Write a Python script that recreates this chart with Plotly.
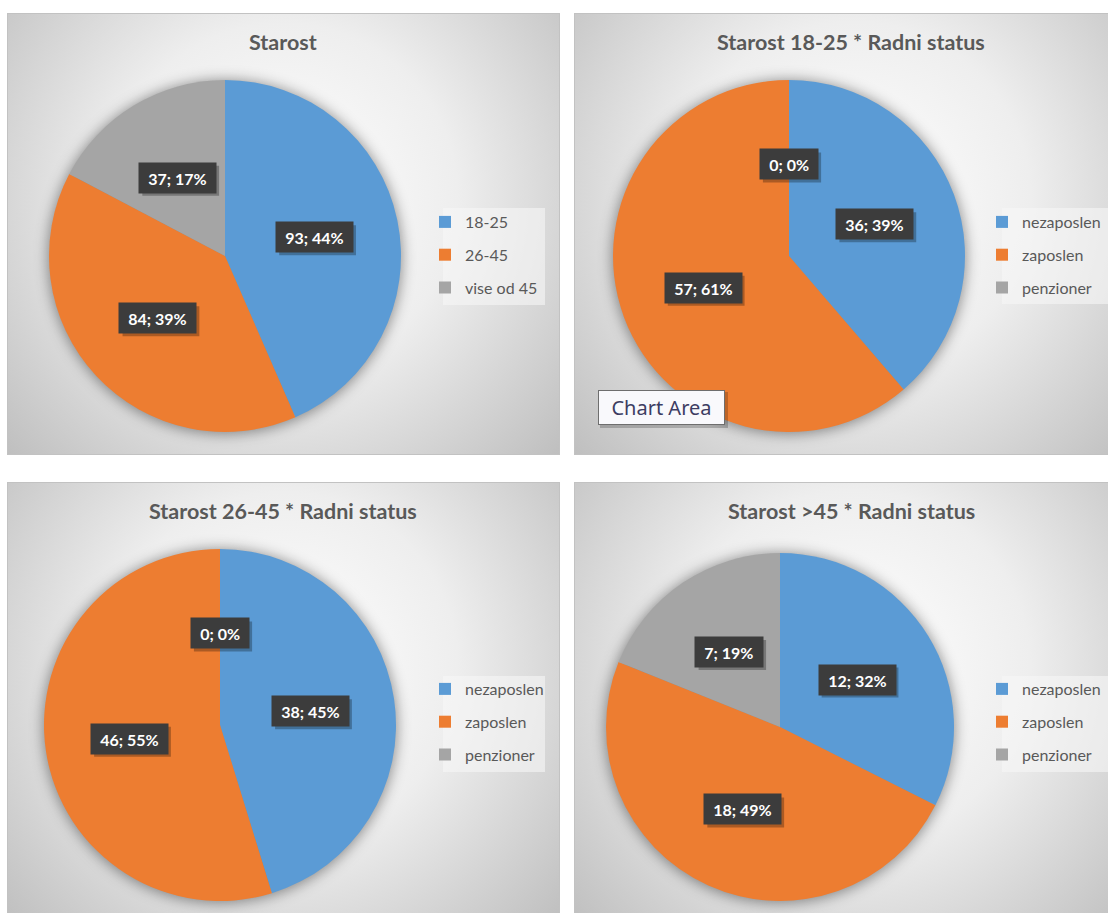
import math
import base64
import plotly.graph_objects as go

W, H = 1108, 913

# ---------------- data ----------------
titles = ["Starost",
          "Starost 18-25 * Radni status",
          "Starost 26-45 * Radni status",
          "Starost >45 * Radni status"]

age_labels = ["18-25", "26-45", "vise od 45"]
status_labels = ["nezaposlen", "zaposlen", "penzioner"]

age_values = [93, 84, 37]
age_pct = [44, 39, 17]

s1825_values = [36, 57, 0]
s1825_pct = [39, 61, 0]

s2645_values = [38, 46, 0]
s2645_pct = [45, 55, 0]

s45_values = [12, 18, 7]
s45_pct = [32, 49, 19]

colors = ["#5B9BD5", "#ED7D31", "#A5A5A5"]

charts = [
    (titles[0], age_labels, age_values, age_pct),
    (titles[1], status_labels, s1825_values, s1825_pct),
    (titles[2], status_labels, s2645_values, s2645_pct),
    (titles[3], status_labels, s45_values, s45_pct),
]

# ---------------- layout geometry (pixels) ----------------
panels = [(7, 13, 552, 441), (574, 13, 560, 441), (7, 482, 552, 440), (574, 482, 560, 440)]
pies = [(225, 256, 176), (789, 256, 176), (220, 725, 176), (780, 727, 174)]
title_pos = [(283, 42), (851, 42), (283, 511), (851, 511)]
legend_pos = [(425, 205), (982, 205), (425, 672), (982, 672)]
legend_boxes = [(443, 208, 102, 97), (1002, 208, 120, 96), (443, 676, 102, 96), (1002, 676, 120, 96)]
LABEL_K = 0.52
LEG_FONT = 16
LBL_FONT = 16
LBL_PAD = 5
LBL_H = 20
CHAR_W = {"%": 13.3, ";": 4.3, " ": 4.0}


def px(x):
    return x / W


def py(y):
    return 1 - y / H


def text_w(s):
    return sum(CHAR_W.get(c, 9.3) for c in s) + 8


# ---------------- background (panels with radial gradient, pie shadows, legend boxes) ----------------
svg = [f'<svg xmlns="http://www.w3.org/2000/svg" width="{W}" height="{H}" viewBox="0 0 {W} {H}"><defs>']
for i, (x, y, w, h) in enumerate(panels):
    gcx, gcy = x + w * 0.5, y + h * 0.42
    rr = math.hypot(w, h) * 0.55
    svg.append(
        f'<radialGradient id="g{i}" gradientUnits="userSpaceOnUse" cx="{gcx}" cy="{gcy}" r="{rr}">'
        f'<stop offset="0" stop-color="#ffffff"/><stop offset="0.45" stop-color="#eeeeee"/>'
        f'<stop offset="1" stop-color="#bcbcbc"/></radialGradient>')
svg.append('<filter id="blur" x="-50%" y="-50%" width="200%" height="200%">'
           '<feGaussianBlur stdDeviation="7"/></filter></defs>')
svg.append(f'<rect x="0" y="0" width="{W}" height="{H}" fill="#ffffff"/>')
for i, (x, y, w, h) in enumerate(panels):
    svg.append(f'<rect x="{x + 0.5}" y="{y + 0.5}" width="{w}" height="{h}" fill="url(#g{i})" '
               f'stroke="#c2c2c2" stroke-width="1"/>')
for (cx, cy, r) in pies:
    svg.append(f'<circle cx="{cx}" cy="{cy + 1}" r="{r + 1}" fill="#000000" fill-opacity="0.42" filter="url(#blur)"/>')
for (x, y, w, h) in legend_boxes:
    svg.append(f'<rect x="{x}" y="{y}" width="{w}" height="{h}" fill="#f6f6f6" fill-opacity="0.6"/>')
svg.append('</svg>')
svg_uri = "data:image/svg+xml;base64," + base64.b64encode("".join(svg).encode()).decode()

# ---------------- figure ----------------
fig = go.Figure()
annotations = []
shapes = []
legend_keys = ["legend", "legend2", "legend3", "legend4"]
layout_legends = {}

for i, (title, labels, values, pcts) in enumerate(charts):
    cx, cy, r = pies[i]
    # zero-width suffix keeps each pie's legend entries distinct across the four legends
    fig.add_trace(go.Pie(
        labels=[l + "\u200b" * i for l in labels],
        values=values,
        sort=False,
        direction="clockwise",
        rotation=0,
        marker=dict(colors=colors, line=dict(width=0)),
        textinfo="none",
        hovertemplate=[f"{l}: {v}<extra></extra>" for l, v in zip(labels, values)],
        domain=dict(x=[px(cx - r), px(cx + r)], y=[py(cy + r), py(cy - r)]),
        legend=legend_keys[i],
        showlegend=True,
    ))

    lx, ly = legend_pos[i]
    layout_legends[legend_keys[i]] = dict(
        x=px(lx), y=py(ly), xanchor="left", yanchor="top",
        bgcolor="rgba(0,0,0,0)", borderwidth=0,
        font=dict(family="Lato", size=LEG_FONT, color="#595959"),
        traceorder="grouped", tracegroupgap=9,
        itemclick=False, itemdoubleclick=False,
    )

    tx, ty = title_pos[i]
    annotations.append(dict(
        text=title, x=px(tx), y=py(ty), xref="paper", yref="paper",
        showarrow=False, xanchor="center", yanchor="middle",
        font=dict(family="Lato", size=21.5, color="#595959", weight="bold"),
    ))

    tot = sum(values)
    for j, (v, p) in enumerate(zip(values, pcts)):
        mid = (sum(values[:j]) + v / 2) / tot * 2 * math.pi
        lxp = cx + LABEL_K * r * math.sin(mid)
        lyp = cy - LABEL_K * r * math.cos(mid)
        txt = f"{v}; {p}%"
        tw = text_w(txt)
        bw, bh = tw + 2 * LBL_PAD, LBL_H + 2 * LBL_PAD
        # drop shadow of the label box
        shapes.append(dict(
            type="rect", xref="paper", yref="paper", layer="above",
            x0=px(lxp - bw / 2 + 3), x1=px(lxp + bw / 2 + 3),
            y0=py(lyp + bh / 2 + 3), y1=py(lyp - bh / 2 + 3),
            fillcolor="rgba(0,0,0,0.28)", line=dict(width=0),
        ))
        annotations.append(dict(
            text=txt, x=px(lxp), y=py(lyp), xref="paper", yref="paper",
            showarrow=False, xanchor="center", yanchor="middle",
            width=tw, height=LBL_H, align="center", valign="middle",
            font=dict(family="Lato", size=LBL_FONT, color="#ffffff", weight="bold"),
            bgcolor="#3c3c3c", borderpad=LBL_PAD,
        ))

# invisible helper entries: give each legend a named group so the item gap applies
for i in range(4):
    fig.add_trace(go.Pie(
        labels=[" " + "\u200b" * i], values=[1], sort=False,
        marker=dict(colors=["rgba(0,0,0,0)"], line=dict(width=0)),
        textinfo="none", hoverinfo="skip",
        domain=dict(x=[0, 0.001], y=[0, 0.001]),
        legend=legend_keys[i], legendgroup=f"helper{i}", showlegend=True,
    ))

# "Chart Area" tooltip
ca_x, ca_y, ca_w, ca_h, ca_pad = 661.5, 407.5, 119, 27, 4
shapes.append(dict(
    type="rect", xref="paper", yref="paper", layer="above",
    x0=px(ca_x - ca_w / 2 - ca_pad + 2), x1=px(ca_x + ca_w / 2 + ca_pad + 3),
    y0=py(ca_y + ca_h / 2 + ca_pad + 3), y1=py(ca_y - ca_h / 2 - ca_pad + 2),
    fillcolor="rgba(0,0,0,0.2)", line=dict(width=0),
))
annotations.append(dict(
    text="Chart Area", x=px(ca_x), y=py(ca_y), xref="paper", yref="paper",
    showarrow=False, xanchor="center", yanchor="middle",
    width=ca_w, height=ca_h, align="center", valign="middle",
    font=dict(family="Noto Sans", size=20, color="#3d3d62"),
    bgcolor="#f9f9fc", bordercolor="#6e6e6e", borderwidth=1, borderpad=ca_pad - 1,
))

fig.update_layout(
    width=W, height=H,
    margin=dict(l=0, r=0, t=0, b=0),
    paper_bgcolor="#ffffff",
    images=[dict(source=svg_uri, xref="paper", yref="paper", x=0, y=1, sizex=1, sizey=1,
                 xanchor="left", yanchor="top", sizing="stretch", layer="below")],
    annotations=annotations,
    shapes=shapes,
    **layout_legends,
)

fig.write_html("out.html")
